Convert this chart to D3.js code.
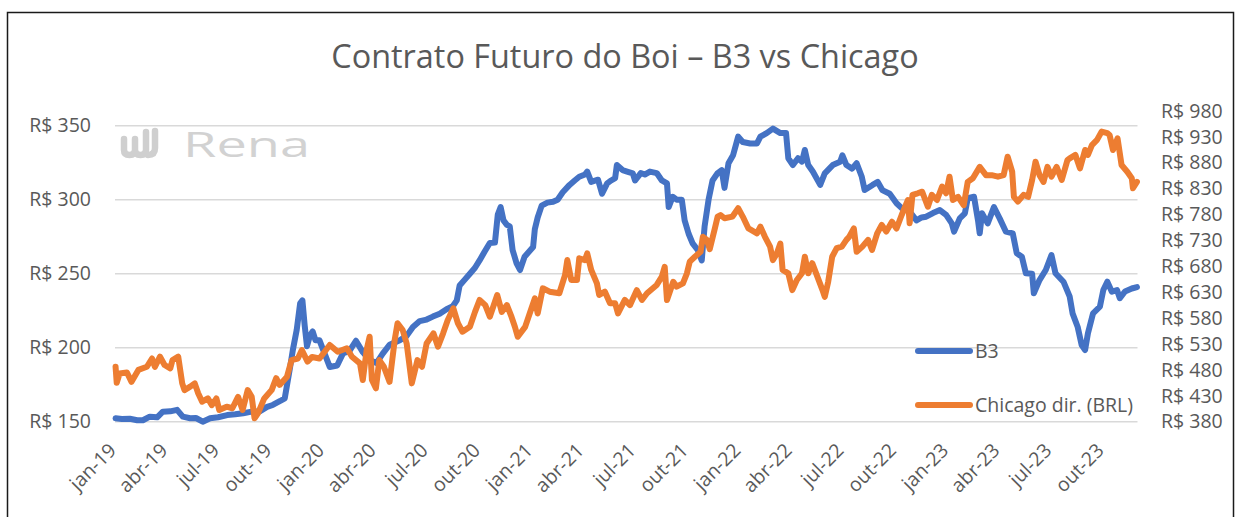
<!DOCTYPE html>
<html>
<head>
<meta charset="utf-8">
<script src="https://cdn.jsdelivr.net/npm/d3@7"></script>
<style>
  body { margin: 0; background: #fff; }
  svg { display: block; }
  text { font-family: "Open Sans", "Noto Sans", sans-serif; fill: #595959; }
</style>
</head>
<body>
<div id="chart"></div>
<script>
// B3 (left axis, R$/@)
var b3Dates = ["2019-01-02","2019-01-13","2019-01-27","2019-02-09","2019-02-19","2019-03-03","2019-03-16","2019-03-26","2019-04-08","2019-04-20","2019-04-30","2019-05-13","2019-05-23","2019-06-04","2019-06-17","2019-07-01","2019-07-17","2019-07-31","2019-08-14","2019-08-29","2019-09-12","2019-09-25","2019-10-05","2019-10-18","2019-10-26","2019-11-04","2019-11-09","2019-11-16","2019-11-22","2019-11-26","2019-11-30","2019-12-04","2019-12-09","2019-12-14","2019-12-19","2019-12-26",
  "2020-01-05","2020-01-13","2020-01-26","2020-02-05","2020-02-17","2020-02-28","2020-03-11","2020-03-23","2020-04-04","2020-04-15","2020-04-27","2020-05-15","2020-05-27","2020-06-07","2020-06-19","2020-07-01","2020-07-12","2020-07-24","2020-08-05","2020-08-16","2020-08-23","2020-08-28","2020-09-06","2020-09-15","2020-09-24","2020-10-02","2020-10-11","2020-10-20","2020-10-29","2020-11-03","2020-11-08","2020-11-13","2020-11-19","2020-11-24","2020-11-29","2020-12-06","2020-12-12","2020-12-20",
  "2021-01-04","2021-01-07","2021-01-12","2021-01-19","2021-01-29","2021-02-08","2021-02-16","2021-02-25","2021-03-09","2021-03-18","2021-03-26","2021-04-05","2021-04-09","2021-04-16","2021-04-28","2021-05-05","2021-05-14","2021-05-21","2021-05-28","2021-05-31","2021-06-10","2021-06-18","2021-06-28","2021-07-02","2021-07-12","2021-07-19","2021-07-28","2021-08-09","2021-08-18","2021-08-27","2021-08-30","2021-09-06","2021-09-13","2021-09-22","2021-09-27","2021-10-04","2021-10-11","2021-10-20","2021-10-27","2021-11-01","2021-11-08","2021-11-15","2021-11-24","2021-12-01","2021-12-06","2021-12-13","2021-12-21","2021-12-30",
  "2022-01-07","2022-01-20","2022-02-01","2022-02-07","2022-02-18","2022-03-01","2022-03-14","2022-03-24","2022-03-28","2022-04-05","2022-04-14","2022-04-21","2022-04-26","2022-05-02","2022-05-10","2022-05-23","2022-05-31","2022-06-14","2022-06-27","2022-07-01","2022-07-08","2022-07-18","2022-07-26","2022-08-04","2022-08-09","2022-08-23","2022-09-01","2022-09-09","2022-09-22","2022-10-04","2022-10-14","2022-10-27","2022-11-08","2022-11-17","2022-11-25","2022-12-07","2022-12-19","2022-12-30",
  "2023-01-09","2023-01-13","2023-01-23","2023-02-01","2023-02-06","2023-02-17","2023-02-24","2023-02-27","2023-03-03","2023-03-13","2023-03-24","2023-04-03","2023-04-14","2023-04-26","2023-05-03","2023-05-12","2023-05-19","2023-05-30","2023-06-02","2023-06-12","2023-06-23","2023-07-03","2023-07-10","2023-07-24","2023-08-04","2023-08-09","2023-08-18","2023-08-25","2023-08-31","2023-09-05","2023-09-14","2023-09-26","2023-10-02","2023-10-09","2023-10-17","2023-10-26","2023-10-31","2023-11-09","2023-11-21","2023-11-30"];
var b3Values = [152.3,151.8,152,151,151,153.4,153,156.8,157,158,153.4,152.3,152.5,150,152.3,153,154.5,155,155.7,156.8,157,160,161.3,164,165.8,186,198,212,230,232,215,201,208,211,205,205,
  195,187,188,196,198,204.7,197,191.7,189.6,196,202,205,208,214,218,219,221,223,226,228,232,242,246,250,254,259,265,270.7,271,290,295,286,283,282,266,257,252.5,261.5,
  268,280,288,296,298,298.6,300,305,310,313,315.5,317,319,312,313.5,304,311,313,314.6,323.4,320,319,317.8,313,318,317,319,318,313,311,295,302,300,300,286,277,270.5,266,259,281.8,300,313,318,320,308,324.6,330,342.6,
  339,338,338,342.6,345,348,345,345,328,323.4,328,325.7,333.6,323.4,319,310,317.8,323.4,325.7,330,323.4,321,324.6,315.5,306.5,310,312,306.5,304,297.6,294,292,286,288,288.5,291,293,289.7,
  284,278.4,287.4,290.8,301,302,286,277.3,290.8,284,295,287.4,278.4,277.3,263.8,261.5,250.3,250,236.8,245.7,252.5,262.6,250.3,244.6,234.5,223.2,214,201.8,198.4,209.7,223.2,227.7,239,244.6,237.8,239,233.4,238,240,241];

// Chicago em reais (right axis)
var cmeDates = ["2019-01-02","2019-01-04","2019-01-09","2019-01-22","2019-01-30","2019-02-11","2019-02-26","2019-03-07","2019-03-12","2019-03-21","2019-03-29","2019-04-08","2019-04-12","2019-04-22","2019-04-29","2019-05-03","2019-05-13","2019-05-21","2019-05-27","2019-06-03","2019-06-13","2019-06-20","2019-06-28","2019-07-03","2019-07-16","2019-07-26","2019-08-05","2019-08-13","2019-08-22","2019-08-29","2019-09-03","2019-09-09","2019-09-20","2019-10-03","2019-10-11","2019-10-17","2019-10-30","2019-11-07","2019-11-18","2019-11-25","2019-12-05","2019-12-13","2019-12-26",
  "2020-01-13","2020-01-27","2020-02-12","2020-02-21","2020-03-06","2020-03-11","2020-03-18","2020-03-23","2020-03-27","2020-04-03","2020-04-09","2020-04-17","2020-04-27","2020-05-06","2020-05-11","2020-05-20","2020-05-27","2020-06-05","2020-06-15","2020-06-23","2020-07-01","2020-07-13","2020-07-21","2020-07-30","2020-08-07","2020-08-17","2020-08-25","2020-09-02","2020-09-15","2020-09-24","2020-10-02","2020-10-12","2020-10-20","2020-11-02","2020-11-10","2020-11-19","2020-11-27","2020-12-03","2020-12-08","2020-12-21","2020-12-29",
  "2021-01-07","2021-01-12","2021-01-21","2021-02-02","2021-02-19","2021-03-01","2021-03-05","2021-03-12","2021-03-22","2021-03-26","2021-04-05","2021-04-09","2021-04-16","2021-04-26","2021-04-30","2021-05-10","2021-05-19","2021-05-28","2021-06-02","2021-06-14","2021-06-23","2021-07-05","2021-07-14","2021-07-23","2021-08-09","2021-08-18","2021-08-23","2021-08-27","2021-09-07","2021-09-13","2021-09-24","2021-10-01","2021-10-06","2021-10-15","2021-10-25","2021-10-29","2021-11-05","2021-11-10","2021-11-19","2021-11-24","2021-11-29","2021-12-06","2021-12-20","2021-12-30",
  "2022-01-07","2022-01-17","2022-02-01","2022-02-07","2022-02-15","2022-02-24","2022-03-01","2022-03-08","2022-03-14","2022-03-18","2022-03-28","2022-04-04","2022-04-12","2022-04-21","2022-04-26","2022-05-02","2022-05-09","2022-05-18","2022-05-27","2022-05-31","2022-06-06","2022-06-13","2022-06-21","2022-06-30","2022-07-08","2022-07-13","2022-07-21","2022-07-26","2022-08-05","2022-08-15","2022-08-22","2022-08-31","2022-09-08","2022-09-16","2022-09-26","2022-10-04","2022-10-13","2022-10-24","2022-10-27","2022-11-01","2022-11-10","2022-11-18","2022-11-28","2022-12-05","2022-12-14","2022-12-23","2022-12-30",
  "2023-01-05","2023-01-11","2023-01-20","2023-01-30","2023-02-06","2023-02-15","2023-02-27","2023-03-10","2023-03-20","2023-03-31","2023-04-10","2023-04-17","2023-04-25","2023-04-28","2023-05-05","2023-05-15","2023-05-23","2023-05-30","2023-06-05","2023-06-12","2023-06-19","2023-06-26","2023-07-03","2023-07-12","2023-07-21","2023-07-31","2023-08-04","2023-08-14","2023-08-22","2023-08-31","2023-09-05","2023-09-12","2023-09-21","2023-09-29","2023-10-09","2023-10-13","2023-10-19","2023-10-27","2023-11-03","2023-11-13","2023-11-21","2023-11-23","2023-11-30"];
var cmeValues = [486,455,473,475,457,480,486,502,486,505.5,489.5,483,499,505.5,454,441,447.6,454,435,418.6,425,412,425,402.6,409,406,428,402.6,441,428,386.5,396,425,441,464,451,467,499,502,518.4,496,505,502,
  528,515,521.7,505.5,492.7,460.5,520,544,460.5,444.5,499,486,457,537.7,570,557,531,454,499,486,531,550.6,524.8,550.6,576,599,570,553.7,563.4,592,615,605,582.7,624.6,592,605,582.7,563.4,544,563,589,
  618,589,637.5,631,628,663,692,653.5,653.5,695.4,692,705,673,647,624.6,631,608.6,608.6,589,615,605,634,615,628,644,660,679,615,650,640.6,647,666.5,689,698.5,708,737,731,713,753,776,779,772.7,776,792,
  776,753,743.7,756.5,737,718,692,705,724,673,666.5,634,653.5,666.5,698.5,666.5,686,660,634,621,650,698.5,715,718,731,737,753,708,718,731,711.5,743.7,760,747,766,753,779,808,763,818,821,824,795,818,808,834,821,
  853,808,814,798,843,850,872,856,856,853,856,891.6,862.6,814,805,818,814,846.6,882,856,843,872,853,872,846.6,885,888.5,895,869,904.5,895,914,924,940,937,933.5,904.5,927,875.6,862.6,850,830.6,843];

var leftTicks = [150, 200, 250, 300, 350];
var rightTicks = [380, 430, 480, 530, 580, 630, 680, 730, 780, 830, 880, 930, 980];
var monthNames = ["jan", "fev", "mar", "abr", "mai", "jun", "jul", "ago", "set", "out", "nov", "dez"];
var seriesNames = ["B3", "Chicago dir. (BRL)"];
var seriesColors = ["#4472C4", "#ED7D31"];

var svgWidth = 1236;
var svgHeight = 517;
var plot = { left: 115, right: 1137.5, top: 110.9, bottom: 421.7 };

var svg = d3.select("#chart")
  .append("svg")
  .attr("width", svgWidth)
  .attr("height", svgHeight);

svg.append("rect")
  .attr("width", svgWidth)
  .attr("height", svgHeight)
  .attr("fill", "#fff");

// chart border
svg.append("rect")
  .attr("x", 7.5)
  .attr("y", 12.5)
  .attr("width", 1226)
  .attr("height", 530)
  .attr("fill", "none")
  .attr("stroke", "#1a1a1a")
  .attr("stroke-width", 1.5);

var parseDate = d3.timeParse("%Y-%m-%d");
var b3 = b3Dates.map((d, i) => ({ date: parseDate(d), value: b3Values[i] }));
var cme = cmeDates.map((d, i) => ({ date: parseDate(d), value: cmeValues[i] }));

var xScale = d3.scaleTime()
  .domain([new Date(2019, 0, 1), new Date(2023, 11, 1)])
  .range([plot.left, plot.right]);

var yLeft = d3.scaleLinear()
  .domain([150, 360])
  .range([plot.bottom, plot.top]);

var yRight = d3.scaleLinear()
  .domain([380, 980])
  .range([plot.bottom, plot.top]);

// title
svg.append("text")
  .attr("x", 625)
  .attr("y", 68)
  .attr("text-anchor", "middle")
  .attr("font-size", "32.4px")
  .text("Contrato Futuro do Boi \u2013 B3 vs Chicago");

// watermark
var mark = svg.append("g").attr("class", "watermark");
mark.append("path")
  .attr("d", "M124,139 V150 Q124,155 129.5,155 Q135,155 135,150 V139 M135,150 Q135,155 140.5,155 Q146,155 146,150 V132 M155,131 V148 Q155,155 148,155")
  .attr("fill", "none")
  .attr("stroke", "#cfcfcf")
  .attr("stroke-width", 6.5)
  .attr("stroke-linecap", "round");
mark.append("text")
  .attr("x", 183)
  .attr("y", 157)
  .attr("font-size", "34px")
  .attr("font-family", "Lato, sans-serif")
  .attr("textLength", 127)
  .attr("lengthAdjust", "spacingAndGlyphs")
  .style("fill", "#d2d2d2")
  .text("Rena");

// gridlines
svg.append("g")
  .selectAll("line")
  .data(leftTicks)
  .enter()
  .append("line")
  .attr("x1", plot.left)
  .attr("x2", plot.right)
  .attr("y1", d => yLeft(d))
  .attr("y2", d => yLeft(d))
  .attr("stroke", "#d9d9d9")
  .attr("stroke-width", 1.5);

var leftAxis = d3.axisLeft(yLeft)
  .tickValues(leftTicks)
  .tickSize(0)
  .tickPadding(0)
  .tickFormat(d => "R$ " + d);

var rightAxis = d3.axisRight(yRight)
  .tickValues(rightTicks)
  .tickSize(0)
  .tickPadding(0)
  .tickFormat(d => "R$ " + d);

var fmtMonth = d => monthNames[d.getMonth()] + "-" + d3.timeFormat("%y")(d);

var bottomAxis = d3.axisBottom(xScale)
  .ticks(d3.timeMonth.every(3))
  .tickSize(0)
  .tickFormat(fmtMonth);

var gLeft = svg.append("g")
  .attr("transform", "translate(91,0)")
  .call(leftAxis);

var gRight = svg.append("g")
  .attr("transform", "translate(1161,0)")
  .call(rightAxis);

var gBottom = svg.append("g")
  .attr("transform", `translate(0, ${plot.bottom})`)
  .call(bottomAxis);

[gLeft, gRight, gBottom].forEach(g => {
  g.select(".domain").remove();
  g.selectAll("text")
    .attr("font-size", "19.5px")
    .attr("font-family", null)
    .attr("fill", null);
});

gBottom.selectAll("text")
  .attr("y", 0)
  .attr("dy", 0)
  .attr("text-anchor", "end")
  .attr("transform", "translate(2,30) rotate(-45)");

// lines
var lineB3 = d3.line()
  .x(d => xScale(d.date))
  .y(d => yLeft(d.value));

var lineCme = d3.line()
  .x(d => xScale(d.date))
  .y(d => yRight(d.value));

svg.append("path")
  .datum(b3)
  .attr("d", lineB3)
  .attr("fill", "none")
  .attr("stroke", seriesColors[0])
  .attr("stroke-width", 6)
  .attr("stroke-linejoin", "round")
  .attr("stroke-linecap", "round");

svg.append("path")
  .datum(cme)
  .attr("d", lineCme)
  .attr("fill", "none")
  .attr("stroke", seriesColors[1])
  .attr("stroke-width", 6)
  .attr("stroke-linejoin", "round")
  .attr("stroke-linecap", "round");

// legend
var legend = svg.append("g")
  .selectAll("g")
  .data(seriesNames)
  .enter()
  .append("g")
  .attr("transform", (d, i) => `translate(918, ${351 + i * 54})`);

legend.append("line")
  .attr("x1", 0)
  .attr("x2", 52)
  .attr("stroke", (d, i) => seriesColors[i])
  .attr("stroke-width", 6)
  .attr("stroke-linecap", "round");

legend.append("text")
  .attr("x", 57)
  .attr("dy", "0.35em")
  .attr("font-size", "19.5px")
  .text(d => d);
</script>
</body>
</html>
